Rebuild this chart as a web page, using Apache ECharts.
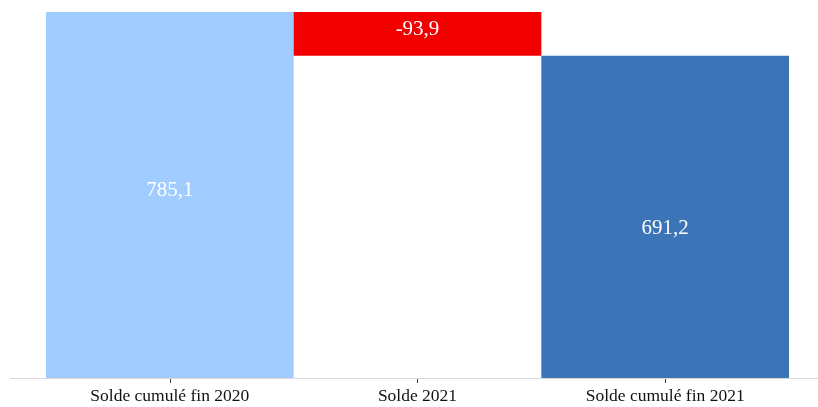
<!DOCTYPE html>
<html lang="fr">
<head>
    <meta charset="UTF-8">
    <title>Solde cumulé</title>
    <script src="https://cdn.jsdelivr.net/npm/echarts@6/dist/echarts.min.js"></script>
    <style>
        html, body { margin: 0; padding: 0; background: #fff; }
    </style>
</head>
<body>
    <div id="main" style="width: 818px;height:407px;"></div>
<script>
    // catégories et valeurs
    var categories = ['Solde cumulé fin 2020', 'Solde 2021', 'Solde cumulé fin 2021'];
    var values = [785.1, -93.9, 691.2];
    var barColors = ['#a0ccff', '#f20000', '#3b75b7'];

    // base invisible de la cascade
    var baseVals = [];
    var showVals = [];
    var running = 0;
    for (var i = 0; i < values.length; i++) {
        if (i === values.length - 1) {
            baseVals.push(0);
            showVals.push(values[i]);
        } else if (values[i] >= 0) {
            baseVals.push(running);
            showVals.push(values[i]);
            running += values[i];
        } else {
            running += values[i];
            baseVals.push(running);
            showVals.push(-values[i]);
        }
    }

    var labelOffsets = [[0, -5], [0, -4], [0, 12]];

    var myChart = echarts.init(document.getElementById('main'));

    var option = {
        animation: false,
        grid: { left: 46, right: 29, top: 12, bottom: 29 },
        graphic: [{
            type: 'line',
            shape: { x1: 10, y1: 378.5, x2: 818, y2: 378.5 },
            style: { stroke: '#d9d9d9', lineWidth: 1 },
            z: 10
        }],
        xAxis: {
            type: 'category',
            data: categories,
            axisLine: { show: false },
            axisTick: { show: true, alignWithLabel: true, length: 5, lineStyle: { color: '#444' } },
            axisLabel: {
                color: '#111',
                fontFamily: 'Liberation Serif',
                fontSize: 17.5,
                margin: 9
            }
        },
        yAxis: {
            type: 'value',
            min: 0,
            max: 785.1,
            show: false,
            splitLine: { show: false }
        },
        series: [
            {
                type: 'bar',
                stack: 'w',
                barWidth: '100%',
                itemStyle: { color: 'transparent' },
                data: baseVals,
                silent: true
            },
            {
                type: 'bar',
                stack: 'w',
                barWidth: '100%',
                data: showVals.map(function (v, i) {
                    return {
                        value: v,
                        itemStyle: { color: barColors[i] },
                        label: { offset: labelOffsets[i] }
                    };
                }),
                label: {
                    show: true,
                    position: 'inside',
                    color: '#fff',
                    fontFamily: 'Liberation Serif',
                    fontSize: 21,
                    formatter: function (p) {
                        return values[p.dataIndex].toFixed(1).replace('.', ',');
                    }
                }
            }
        ]
    };

    myChart.setOption(option);
</script>
</body>
</html>
